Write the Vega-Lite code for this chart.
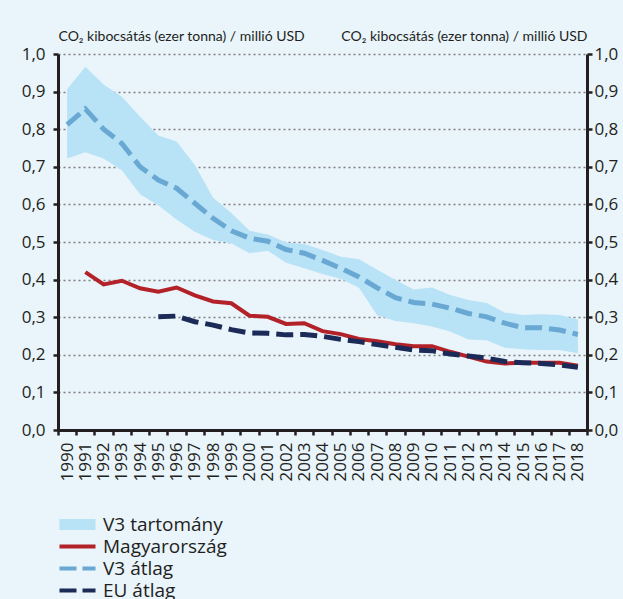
{
  "$schema": "https://vega.github.io/schema/vega-lite/v6.json",
  "width": 529,
  "height": 376,
  "autosize": {"type": "none"},
  "padding": {"left": 58, "top": 54, "right": 36, "bottom": 169},
  "background": "#e9f4fb",
  "datasets": {
    "range": [
      {"year": 1990, "series": "V3 tartomány", "lo": 0.722, "hi": 0.906},
      {"year": 1991, "series": "V3 tartomány", "lo": 0.739, "hi": 0.966},
      {"year": 1992, "series": "V3 tartomány", "lo": 0.722, "hi": 0.919},
      {"year": 1993, "series": "V3 tartomány", "lo": 0.691, "hi": 0.886},
      {"year": 1994, "series": "V3 tartomány", "lo": 0.627, "hi": 0.833},
      {"year": 1995, "series": "V3 tartomány", "lo": 0.598, "hi": 0.783},
      {"year": 1996, "series": "V3 tartomány", "lo": 0.560, "hi": 0.767},
      {"year": 1997, "series": "V3 tartomány", "lo": 0.527, "hi": 0.705},
      {"year": 1998, "series": "V3 tartomány", "lo": 0.505, "hi": 0.618},
      {"year": 1999, "series": "V3 tartomány", "lo": 0.497, "hi": 0.577},
      {"year": 2000, "series": "V3 tartomány", "lo": 0.470, "hi": 0.530},
      {"year": 2001, "series": "V3 tartomány", "lo": 0.477, "hi": 0.520},
      {"year": 2002, "series": "V3 tartomány", "lo": 0.445, "hi": 0.499},
      {"year": 2003, "series": "V3 tartomány", "lo": 0.430, "hi": 0.495},
      {"year": 2004, "series": "V3 tartomány", "lo": 0.415, "hi": 0.479},
      {"year": 2005, "series": "V3 tartomány", "lo": 0.402, "hi": 0.461},
      {"year": 2006, "series": "V3 tartomány", "lo": 0.378, "hi": 0.454},
      {"year": 2007, "series": "V3 tartomány", "lo": 0.305, "hi": 0.426},
      {"year": 2008, "series": "V3 tartomány", "lo": 0.290, "hi": 0.399},
      {"year": 2009, "series": "V3 tartomány", "lo": 0.284, "hi": 0.374},
      {"year": 2010, "series": "V3 tartomány", "lo": 0.275, "hi": 0.379},
      {"year": 2011, "series": "V3 tartomány", "lo": 0.262, "hi": 0.359},
      {"year": 2012, "series": "V3 tartomány", "lo": 0.241, "hi": 0.346},
      {"year": 2013, "series": "V3 tartomány", "lo": 0.239, "hi": 0.338},
      {"year": 2014, "series": "V3 tartomány", "lo": 0.219, "hi": 0.312},
      {"year": 2015, "series": "V3 tartomány", "lo": 0.215, "hi": 0.306},
      {"year": 2016, "series": "V3 tartomány", "lo": 0.213, "hi": 0.308},
      {"year": 2017, "series": "V3 tartomány", "lo": 0.213, "hi": 0.306},
      {"year": 2018, "series": "V3 tartomány", "lo": 0.204, "hi": 0.294}
    ],
    "lines": [
      {"year": 1990, "series": "V3 átlag", "value": 0.812},
      {"year": 1991, "series": "V3 átlag", "value": 0.854},
      {"year": 1992, "series": "V3 átlag", "value": 0.800},
      {"year": 1993, "series": "V3 átlag", "value": 0.762},
      {"year": 1994, "series": "V3 átlag", "value": 0.700},
      {"year": 1995, "series": "V3 átlag", "value": 0.665},
      {"year": 1996, "series": "V3 átlag", "value": 0.643},
      {"year": 1997, "series": "V3 átlag", "value": 0.603},
      {"year": 1998, "series": "V3 átlag", "value": 0.563},
      {"year": 1999, "series": "V3 átlag", "value": 0.530},
      {"year": 2000, "series": "V3 átlag", "value": 0.510},
      {"year": 2001, "series": "V3 átlag", "value": 0.502},
      {"year": 2002, "series": "V3 átlag", "value": 0.480},
      {"year": 2003, "series": "V3 átlag", "value": 0.470},
      {"year": 2004, "series": "V3 átlag", "value": 0.451},
      {"year": 2005, "series": "V3 átlag", "value": 0.430},
      {"year": 2006, "series": "V3 átlag", "value": 0.407},
      {"year": 2007, "series": "V3 átlag", "value": 0.378},
      {"year": 2008, "series": "V3 átlag", "value": 0.352},
      {"year": 2009, "series": "V3 átlag", "value": 0.339},
      {"year": 2010, "series": "V3 átlag", "value": 0.335},
      {"year": 2011, "series": "V3 átlag", "value": 0.324},
      {"year": 2012, "series": "V3 átlag", "value": 0.310},
      {"year": 2013, "series": "V3 átlag", "value": 0.301},
      {"year": 2014, "series": "V3 átlag", "value": 0.284},
      {"year": 2015, "series": "V3 átlag", "value": 0.272},
      {"year": 2016, "series": "V3 átlag", "value": 0.272},
      {"year": 2017, "series": "V3 átlag", "value": 0.266},
      {"year": 2018, "series": "V3 átlag", "value": 0.254},
      {"year": 1991, "series": "Magyarország", "value": 0.420},
      {"year": 1992, "series": "Magyarország", "value": 0.387},
      {"year": 1993, "series": "Magyarország", "value": 0.397},
      {"year": 1994, "series": "Magyarország", "value": 0.377},
      {"year": 1995, "series": "Magyarország", "value": 0.368},
      {"year": 1996, "series": "Magyarország", "value": 0.379},
      {"year": 1997, "series": "Magyarország", "value": 0.358},
      {"year": 1998, "series": "Magyarország", "value": 0.342},
      {"year": 1999, "series": "Magyarország", "value": 0.337},
      {"year": 2000, "series": "Magyarország", "value": 0.304},
      {"year": 2001, "series": "Magyarország", "value": 0.301},
      {"year": 2002, "series": "Magyarország", "value": 0.282},
      {"year": 2003, "series": "Magyarország", "value": 0.284},
      {"year": 2004, "series": "Magyarország", "value": 0.263},
      {"year": 2005, "series": "Magyarország", "value": 0.255},
      {"year": 2006, "series": "Magyarország", "value": 0.242},
      {"year": 2007, "series": "Magyarország", "value": 0.236},
      {"year": 2008, "series": "Magyarország", "value": 0.228},
      {"year": 2009, "series": "Magyarország", "value": 0.223},
      {"year": 2010, "series": "Magyarország", "value": 0.223},
      {"year": 2011, "series": "Magyarország", "value": 0.208},
      {"year": 2012, "series": "Magyarország", "value": 0.195},
      {"year": 2013, "series": "Magyarország", "value": 0.182},
      {"year": 2014, "series": "Magyarország", "value": 0.177},
      {"year": 2015, "series": "Magyarország", "value": 0.179},
      {"year": 2016, "series": "Magyarország", "value": 0.179},
      {"year": 2017, "series": "Magyarország", "value": 0.179},
      {"year": 2018, "series": "Magyarország", "value": 0.171},
      {"year": 1995, "series": "EU átlag", "value": 0.301},
      {"year": 1996, "series": "EU átlag", "value": 0.303},
      {"year": 1997, "series": "EU átlag", "value": 0.288},
      {"year": 1998, "series": "EU átlag", "value": 0.279},
      {"year": 1999, "series": "EU átlag", "value": 0.267},
      {"year": 2000, "series": "EU átlag", "value": 0.258},
      {"year": 2001, "series": "EU átlag", "value": 0.257},
      {"year": 2002, "series": "EU átlag", "value": 0.253},
      {"year": 2003, "series": "EU átlag", "value": 0.254},
      {"year": 2004, "series": "EU átlag", "value": 0.249},
      {"year": 2005, "series": "EU átlag", "value": 0.241},
      {"year": 2006, "series": "EU átlag", "value": 0.235},
      {"year": 2007, "series": "EU átlag", "value": 0.227},
      {"year": 2008, "series": "EU átlag", "value": 0.220},
      {"year": 2009, "series": "EU átlag", "value": 0.213},
      {"year": 2010, "series": "EU átlag", "value": 0.211},
      {"year": 2011, "series": "EU átlag", "value": 0.202},
      {"year": 2012, "series": "EU átlag", "value": 0.197},
      {"year": 2013, "series": "EU átlag", "value": 0.191},
      {"year": 2014, "series": "EU átlag", "value": 0.182},
      {"year": 2015, "series": "EU átlag", "value": 0.179},
      {"year": 2016, "series": "EU átlag", "value": 0.177},
      {"year": 2017, "series": "EU átlag", "value": 0.173},
      {"year": 2018, "series": "EU átlag", "value": 0.167}
    ]
  },
  "encoding": {
    "x": {
      "field": "year",
      "type": "ordinal",
      "bandPosition": 0.5,
      "scale": {"type": "band", "paddingInner": 0, "paddingOuter": 0},
      "axis": {
        "title": null,
        "labelAngle": 270,
        "labelFontSize": 17,
        "labelPadding": 7,
        "tickBand": "extent",
        "tickSize": 5,
        "domainWidth": 3,
        "tickWidth": 2.5
      }
    },
    "color": {
      "field": "series",
      "type": "nominal",
      "scale": {
        "domain": ["V3 tartomány", "Magyarország", "V3 átlag", "EU átlag"],
        "range": ["#b8e2f5", "#b22228", "#6aa8d4", "#1b2a57"]
      },
      "legend": {
        "title": null,
        "orient": "none",
        "legendX": -2,
        "legendY": 461,
        "padding": 0,
        "symbolType": "M-1,0H5",
        "symbolSize": 144,
        "symbolStrokeWidth": 4,
        "labelFontSize": 19,
        "labelOffset": 28,
        "rowPadding": 2,
        "labelColor": "#231f20",
        "labelFont": "Open Sans",
        "encode": {
          "symbols": {
            "update": {
              "opacity": {"value": 1},
              "shape": {"signal": "datum.value === 'V3 tartomány' ? 'M-1,-0.9H5V0.9H-1Z' : 'M-1,0H5'"},
              "fill": {"signal": "datum.value === 'V3 tartomány' ? '#b8e2f5' : 'transparent'"},
              "stroke": {"signal": "datum.value === 'V3 tartomány' ? 'transparent' : datum.value === 'Magyarország' ? '#b22228' : datum.value === 'V3 átlag' ? '#6aa8d4' : '#1b2a57'"},
              "strokeWidth": {"signal": "datum.value === 'V3 tartomány' ? 0 : 4"},
              "strokeDash": {"signal": "datum.value === 'V3 átlag' || datum.value === 'EU átlag' ? [17, 6] : [1, 0]"}
            }
          }
        }
      }
    }
  },
  "layer": [
    {
      "data": {"name": "range"},
      "mark": {"type": "area", "opacity": 1},
      "encoding": {
        "y": {
          "field": "lo",
          "type": "quantitative",
          "scale": {"domain": [0, 1], "nice": false, "zero": true},
          "axis": {
            "orient": "left",
            "values": [0, 0.1, 0.2, 0.3, 0.4, 0.5, 0.6, 0.7, 0.8, 0.9, 1],
            "labelExpr": "replace(format(datum.value, '.1f'), '.', ',')",
            "grid": true,
            "gridColor": "#808080",
            "gridDash": [2, 3],
            "gridWidth": 1.5,
            "labelFontSize": 17,
            "labelPadding": 8,
            "tickSize": 5,
            "title": "CO₂ kibocsátás (ezer tonna) / millió USD",
            "titleAngle": 0,
            "titleAlign": "left",
            "titleBaseline": "alphabetic",
            "titleX": 0,
            "titleY": -14
          }
        },
        "y2": {"field": "hi"}
      }
    },
    {
      "data": {"name": "lines"},
      "transform": [{"filter": "datum.series === 'V3 átlag'"}],
      "mark": {"type": "line", "strokeWidth": 5, "strokeDash": [17, 7]},
      "encoding": {
        "y": {"field": "value", "type": "quantitative", "scale": {"domain": [0, 1], "nice": false}, "axis": null}
      }
    },
    {
      "data": {"name": "lines"},
      "transform": [{"filter": "datum.series === 'Magyarország'"}],
      "mark": {"type": "line", "strokeWidth": 4},
      "encoding": {
        "y": {"field": "value", "type": "quantitative", "scale": {"domain": [0, 1], "nice": false}, "axis": null}
      }
    },
    {
      "data": {"name": "lines"},
      "transform": [{"filter": "datum.series === 'EU átlag'"}],
      "mark": {"type": "line", "strokeWidth": 5, "strokeDash": [17, 7]},
      "encoding": {
        "y": {
          "field": "value",
          "type": "quantitative",
          "scale": {"domain": [0, 1], "nice": false},
          "axis": {
            "orient": "right",
            "values": [0, 0.1, 0.2, 0.3, 0.4, 0.5, 0.6, 0.7, 0.8, 0.9, 1],
            "labelExpr": "replace(format(datum.value, '.1f'), '.', ',')",
            "grid": false,
            "labelFontSize": 17,
            "labelPadding": 2,
            "tickSize": 5,
            "title": "CO₂ kibocsátás (ezer tonna) / millió USD",
            "titleAngle": 0,
            "titleAlign": "right",
            "titleBaseline": "alphabetic",
            "titleX": 0,
            "titleY": -14
          }
        }
      }
    }
  ],
  "resolve": {"scale": {"y": "independent"}},
  "config": {
    "view": {"stroke": null},
    "font": "Open Sans",
    "axis": {
      "labelFont": "Open Sans",
      "labelColor": "#231f20",
      "domainColor": "#231f20",
      "domainWidth": 3,
      "tickColor": "#231f20",
      "tickWidth": 2.5,
      "titleFont": "Lato",
      "titleFontSize": 14,
      "titleFontWeight": "normal",
      "titleColor": "#231f20"
    }
  }
}
